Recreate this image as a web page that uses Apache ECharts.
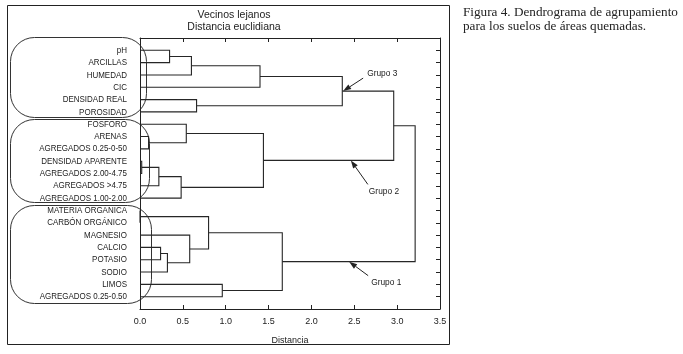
<!DOCTYPE html>
<html>
<head>
<meta charset="utf-8">
<script src="https://cdn.jsdelivr.net/npm/echarts@6/dist/echarts.min.js"></script>
<style>
html,body{margin:0;padding:0;background:#fff;}
#c{width:683px;height:354px;}
</style>
</head>
<body>
<div id="c"></div>
<script>
// ---- data ----
const leafLabels = [
  'pH','ARCILLAS','HUMEDAD','CIC','DENSIDAD REAL','POROSIDAD',
  'FÓSFORO','ARENAS','AGREGADOS 0.25-0-50','DENSIDAD APARENTE','AGREGADOS 2.00-4.75','AGREGADOS >4.75','AGREGADOS 1.00-2.00',
  'MATERIA ORGÁNICA','CARBÓN ORGÁNICO','MAGNESIO','CALCIO','POTASIO','SODIO','LIMOS','AGREGADOS 0.25-0.50'
];
// merges: node id = leafLabels.length + index
const mergeLeft   = [0, 21, 22, 4, 23, 7, 6, 9, 28, 29, 27, 13, 16, 33, 15, 32, 19, 36, 25, 39];
const mergeRight  = [1, 2, 3, 5, 24, 8, 26, 10, 11, 12, 30, 14, 17, 18, 34, 35, 20, 37, 31, 38];
const mergeHeight = [0.345, 0.60, 1.40, 0.66, 2.36, 0.10, 0.54, 0.02, 0.22, 0.48, 1.44, 0.00, 0.24, 0.32, 0.58, 0.80, 0.96, 1.66, 2.96, 3.21];
const xTickValues = [0, 0.5, 1.0, 1.5, 2.0, 2.5, 3.0, 3.5];
// group annotations: label, node id, distance where the arrow touches
const groupNames = ['Grupo 3', 'Grupo 2', 'Grupo 1'];
const groupNodes = [25, 31, 38];
const groupTipX  = [2.37, 2.46, 2.44];

// ---- tree layout in data units ----
const nLeaf = leafLabels.length;
const nodeH = [], nodeY = [];
for (let i = 0; i < nLeaf; i++) { nodeH.push(0); nodeY.push(i); }
mergeHeight.forEach((h, k) => {
  nodeH.push(h);
  nodeY.push((nodeY[mergeLeft[k]] + nodeY[mergeRight[k]]) / 2);
});
const linkData = mergeHeight.map((h, k) => {
  const a = mergeLeft[k], b = mergeRight[k];
  return [nodeH[a], nodeY[a], h, nodeY[b], nodeH[b]];
});
const annData = groupNames.map((n, i) => [groupTipX[i], nodeY[groupNodes[i]], i]);
const leafData = leafLabels.map((n, i) => [0, i, i]);

// annotation styling (pixel offsets from arrow tip)
const annStyle = [
  {tail: [20, -13], text: [24, -18]},
  {tail: [17, 24],  text: [18, 31]},
  {tail: [19, 14],  text: [22, 21]}
];

const INK = '#222';
const SANS = '"Liberation Sans", Arial, sans-serif';
const SERIF = '"Liberation Serif", "DejaVu Serif", serif';

const chart = echarts.init(document.getElementById('c'), null, {renderer: 'canvas'});
const axisCommon = {
  type: 'value', min: 0, max: 3.5, interval: 0.5,
  axisLine: {show: true, onZero: false, lineStyle: {color: INK, width: 1}},
  axisTick: {show: true, inside: true, length: 4, lineStyle: {color: INK}},
  splitLine: {show: false}
};
const yCommon = {
  type: 'value', inverse: true, min: -1, max: 21, interval: 1,
  axisLine: {show: true, onZero: false, lineStyle: {color: INK, width: 1}},
  splitLine: {show: false}
};

chart.setOption({
  animation: false,
  backgroundColor: '#fff',
  grid: {left: 140, right: 243, top: 38, bottom: 45},
  xAxis: [
    Object.assign({}, axisCommon, {
      position: 'bottom',
      axisLabel: {show: true, color: INK, fontSize: 9, fontFamily: SANS, margin: 8,
        formatter: v => xTickValues.indexOf(v) >= 0 ? v.toFixed(1) : ''},
      name: 'Distancia', nameLocation: 'middle', nameGap: 27,
      nameTextStyle: {color: INK, fontSize: 9, fontFamily: SANS}
    }),
    Object.assign({}, axisCommon, {position: 'top', axisLabel: {show: false}})
  ],
  yAxis: [
    Object.assign({}, yCommon, {
      position: 'left',
      axisTick: {show: false},
      axisLabel: {show: false}
    }),
    Object.assign({}, yCommon, {
      position: 'right',
      axisTick: {show: true, inside: true, length: 4, lineStyle: {color: INK}},
      axisLabel: {show: false}
    })
  ],
  series: [
    {
      type: 'custom', xAxisIndex: 0, yAxisIndex: 0, clip: false,
      encode: {x: [0, 2, 4], y: [1, 3]},
      data: linkData,
      renderItem: function (params, api) {
        const aH = api.value(0), aY = api.value(1), m = api.value(2), bY = api.value(3), bH = api.value(4);
        const p = [api.coord([aH, aY]), api.coord([m, aY]), api.coord([m, bY]), api.coord([bH, bY])];
        return {type: 'polyline', shape: {points: p}, style: {stroke: '#262626', lineWidth: 1.1, fill: null}};
      }
    },
    {
      // leaf labels (narrowed to mimic the condensed original face)
      type: 'custom', xAxisIndex: 0, yAxisIndex: 0, clip: false,
      encode: {x: 0, y: 1},
      data: leafData,
      renderItem: function (params, api) {
        const p = api.coord([api.value(0), api.value(1)]);
        return {type: 'text', x: p[0] - 13, y: p[1], scaleX: 0.84,
          style: {text: leafLabels[api.value(2)], fill: INK, fontSize: 9.5, fontFamily: SANS,
            align: 'right', verticalAlign: 'middle'}};
      }
    },
    {
      type: 'custom', xAxisIndex: 0, yAxisIndex: 0, clip: false,
      encode: {x: 0, y: 1},
      data: annData,
      renderItem: function (params, api) {
        const tip = api.coord([api.value(0), api.value(1)]);
        const s = annStyle[api.value(2)];
        const tail = [tip[0] + s.tail[0], tip[1] + s.tail[1]];
        const dx = tip[0] - tail[0], dy = tip[1] - tail[1];
        const len = Math.sqrt(dx * dx + dy * dy);
        const ux = dx / len, uy = dy / len;
        const hl = 8, hw = 2.8;
        const base = [tip[0] - ux * hl, tip[1] - uy * hl];
        return {
          type: 'group',
          children: [
            {type: 'line', shape: {x1: tail[0], y1: tail[1], x2: base[0], y2: base[1]},
              style: {stroke: INK, lineWidth: 1}},
            {type: 'polygon', shape: {points: [tip,
              [base[0] - uy * hw, base[1] + ux * hw], [base[0] + uy * hw, base[1] - ux * hw]]},
              style: {fill: INK}},
            {type: 'text', x: tip[0] + s.text[0], y: tip[1] + s.text[1], scaleX: 0.88,
              style: {text: groupNames[api.value(2)], fill: INK, fontSize: 9.5, fontFamily: SANS,
                align: 'left', verticalAlign: 'middle'}}
          ]
        };
      }
    }
  ],
  graphic: [
    {type: 'rect', shape: {x: 7.5, y: 5.5, width: 442, height: 339}, style: {fill: null, stroke: INK, lineWidth: 1}},
    {type: 'rect', shape: {x: 10.5, y: 37.5, width: 136, height: 80, r: 24}, style: {fill: null, stroke: '#333', lineWidth: 1}},
    {type: 'rect', shape: {x: 10.5, y: 119.5, width: 139, height: 83, r: 24}, style: {fill: null, stroke: '#333', lineWidth: 1}},
    {type: 'rect', shape: {x: 10.5, y: 205.5, width: 141, height: 98, r: 24}, style: {fill: null, stroke: '#333', lineWidth: 1}},
    {type: 'text', x: 234, y: 15, style: {text: 'Vecinos lejanos', fill: INK, fontSize: 10.5, fontFamily: SANS, align: 'center', verticalAlign: 'middle'}},
    {type: 'text', x: 234, y: 27, style: {text: 'Distancia euclidiana', fill: INK, fontSize: 10.5, fontFamily: SANS, align: 'center', verticalAlign: 'middle'}},
    {type: 'text', x: 463, y: 13, style: {text: 'Figura 4. Dendrograma de agrupamiento', fill: INK, fontSize: 13.2, fontFamily: SERIF, align: 'left', verticalAlign: 'middle'}},
    {type: 'text', x: 463, y: 27, style: {text: 'para los suelos de áreas quemadas.', fill: INK, fontSize: 13.2, fontFamily: SERIF, align: 'left', verticalAlign: 'middle'}}
  ]
});
</script>
</body>
</html>
